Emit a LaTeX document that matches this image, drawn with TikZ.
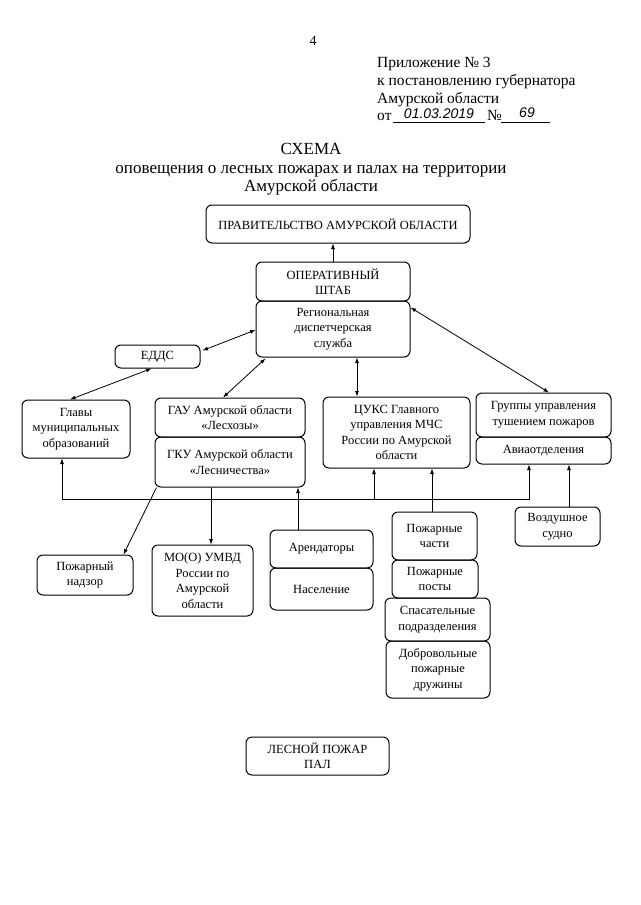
\documentclass[tikz,border=0pt]{standalone}
\usepackage{fontspec}
\setmainfont{Liberation Serif}
\newfontfamily\handfont{Liberation Sans}
\usetikzlibrary{arrows.meta,calc}
\tikzset{
  box/.style={draw, rounded corners=6pt, line width=1pt, align=center,
    font=\fontsize{12.5}{15.5}\selectfont, inner sep=0pt},
  arr/.style={-{Latex[length=5.5pt,width=4pt]}, line width=0.8pt},
  darr/.style={{Latex[length=5.5pt,width=4pt]}-{Latex[length=5.5pt,width=4pt]}, line width=0.8pt},
  hdr/.style={anchor=base west, inner sep=0pt, font=\fontsize{15.5}{17}\selectfont},
  ttl/.style={anchor=base, inner sep=0pt, font=\fontsize{17}{18}\selectfont},
  hand/.style={anchor=base, inner sep=0pt, font=\handfont\itshape\fontsize{14}{15}\selectfont},
}
\begin{document}
\begin{tikzpicture}[x=1pt,y=-1pt]
\path[use as bounding box, fill=white] (0,0) rectangle (640,905);

% page number and header
\node[anchor=base, inner sep=0pt, font=\fontsize{14}{15}\selectfont] (pnum) at (313,45) {4};
\node[hdr] (h1) at (377,67.5) {Приложение № 3};
\node[hdr] (h2) at (377,85.5) {к постановлению губернатора};
\node[hdr] (h3) at (377,103) {Амурской области};
\node[hdr] (h4) at (377,120) {от};
\coordinate (u1a) at (393,122);
\coordinate (u1b) at (485,122);
\draw[line width=0.7pt] (u1a) -- (u1b);
\node[hdr] (h5) at (487,120) {№};
\coordinate (u2a) at (501,122);
\coordinate (u2b) at (550,122);
\draw[line width=0.7pt] (u2a) -- (u2b);
\node[hand] (date) at (439,118) {01.03.2019};
\node[hand] (num) at (527,117) {69};

% title
\node[ttl] (t1) at (311,154) {СХЕМА};
\node[ttl] (t2) at (311,173) {оповещения о лесных пожарах и палах на территории};
\node[ttl] (t3) at (311,191) {Амурской области};

% boxes
\node[box, minimum width=264pt, minimum height=38pt] (prav) at (338,224) {ПРАВИТЕЛЬСТВО АМУРСКОЙ ОБЛАСТИ};
\node[box, minimum width=154pt, minimum height=39pt] (shtab) at (333,281.5) {ОПЕРАТИВНЫЙ\\ШТАБ};
\node[box, minimum width=154pt, minimum height=56pt] (rds) at (333,329) {Региональная\\диспетчерская\\служба};
\node[box, minimum width=85pt, minimum height=23pt] (edds) at (157.5,356.5) {ЕДДС};
\node[box, minimum width=108pt, minimum height=58pt] (glavy) at (76,429) {Главы\\муниципальных\\образований};
\node[box, minimum width=150pt, minimum height=39pt] (gau) at (230,417.5) {ГАУ Амурской области\\«Лесхозы»};
\node[box, minimum width=150pt, minimum height=50pt] (gku) at (230,462) {ГКУ Амурской области\\«Лесничества»};
\node[box, minimum width=147pt, minimum height=71pt] (cuks) at (396.5,432.5) {ЦУКС Главного\\управления МЧС\\России по Амурской\\области};
\node[box, minimum width=135pt, minimum height=44pt] (grup) at (543.5,415) {Группы управления\\тушением пожаров};
\node[box, minimum width=135pt, minimum height=27pt] (avia) at (543.5,450.5) {Авиаотделения};
\node[box, minimum width=96pt, minimum height=40pt] (nadzor) at (85,575) {Пожарный\\надзор};
\node[box, minimum width=101pt, minimum height=71pt] (mvd) at (202.5,580.5) {МО(О) УМВД\\России по\\Амурской\\области};
\node[box, minimum width=103pt, minimum height=38pt] (arend) at (321.5,549) {Арендаторы};
\node[box, minimum width=103pt, minimum height=42pt] (nasel) at (321.5,589) {Население};
\node[box, minimum width=85pt, minimum height=48pt] (pch) at (434.5,536) {Пожарные\\части};
\node[box, minimum width=86pt, minimum height=38pt] (ppost) at (435,579) {Пожарные\\посты};
\node[box, minimum width=105pt, minimum height=43pt] (spas) at (437.5,619.5) {Спасательные\\подразделения};
\node[box, minimum width=104pt, minimum height=57pt] (dobr) at (438,669.5) {Добровольные\\пожарные\\дружины};
\node[box, minimum width=85pt, minimum height=39pt] (vozd) at (557.5,526.5) {Воздушное\\судно};
\node[box, minimum width=143pt, minimum height=38pt] (les) at (317.5,756) {ЛЕСНОЙ ПОЖАР\\ПАЛ};

% connectors
\draw[arr] (shtab.north) -- (shtab.north |- prav.south);
\draw[darr] ($(edds.east)+(2,-6)$) -- ($(rds.west)+(0,1)$);
\draw[darr] ($(glavy.north)+(-6,0)$) -- ($(edds.south)+(-6,0)$);
\draw[darr] ($(gau.north)+(-7,0)$) -- ($(rds.south west)+(10,1)$);
\coordinate (rc) at ($(rds.south)+(24,0)$);
\draw[darr] (rc) -- (rc |- cuks.north);
\draw[darr] ($(rds.north east)+(0,7)$) -- ($(grup.north)+(5.5,0)$);

% bus
\coordinate (b1) at (62,499);
\coordinate (b2) at (529,499);
\coordinate (b3) at (374,499);
\draw[darr] (b1 |- glavy.south) -- (b1) -- (b2) -- (b2 |- avia.south);
\draw[arr] (b3) -- (b3 |- cuks.south);

\draw[arr] ($(gku.south west)+(2,0)$) -- ($(nadzor.north east)+(-10,0)$);
\coordinate (mv) at (211,545);
\draw[arr] (mv |- gku.south) -- (mv |- mvd.north);
\coordinate (ar) at (298,530);
\draw[arr] (ar |- arend.north) -- (ar |- gku.south);
\coordinate (pc) at (432,512);
\draw[arr] (pc |- pch.north) -- (pc |- cuks.south);
\coordinate (vz) at (569,507);
\draw[arr] (vz |- vozd.north) -- (vz |- avia.south);
\end{tikzpicture}
\end{document}
